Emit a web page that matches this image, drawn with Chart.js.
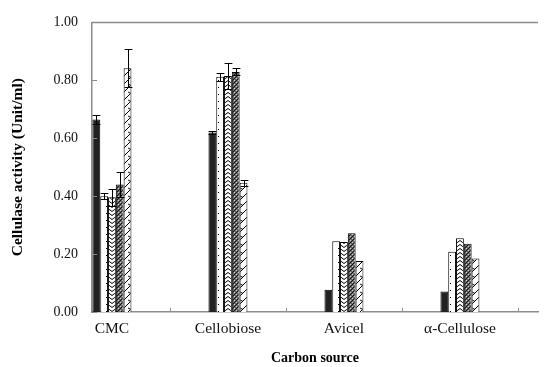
<!DOCTYPE html>
<html>
<head>
<meta charset="utf-8">
<script src="https://cdn.jsdelivr.net/npm/chart.js@4"></script>
<style>
  html, body { margin: 0; padding: 0; background: #fff; }
  #wrap { width: 548px; height: 367px; }
</style>
</head>
<body>
<div id="wrap"><canvas id="c" width="548" height="367"></canvas></div>
<script>
// Carbon sources on the x axis
const categories = ['CMC', 'Cellobiose', 'Avicel', 'α-Cellulose'];

// Cellulase activity (Unit/ml) per series, with standard deviations
const solidValues   = [0.665, 0.62, 0.077, 0.071];
const solidErrors   = [0.015, 0.004, 0, 0];
const dottedValues  = [0.40, 0.812, 0.244, 0.208];
const dottedErrors  = [0.01, 0.013, 0, 0];
const zigzagValues  = [0.396, 0.815, 0.242, 0.255];
const zigzagErrors  = [0.03, 0.045, 0, 0];
const checkValues   = [0.44, 0.829, 0.272, 0.236];
const checkErrors   = [0.042, 0.012, 0, 0];
const hatchValues   = [0.842, 0.446, 0.176, 0.185];
const hatchErrors   = [0.065, 0.011, 0, 0];

// Value-axis ticks
const yTicks = [0, 0.2, 0.4, 0.6, 0.8, 1.0];

// ---- fill patterns ----
function makePattern(w, h, draw) {
  const cv = document.createElement('canvas');
  cv.width = w; cv.height = h;
  const g = cv.getContext('2d');
  draw(g, w, h);
  return g.createPattern(cv, 'repeat');
}
const ctx = document.getElementById('c').getContext('2d');

const dottedFill = makePattern(8, 7, (g, w, h) => {
  g.fillStyle = '#fff'; g.fillRect(0, 0, w, h);
  g.fillStyle = '#000'; g.fillRect(2, 3, 1, 1);
});
const zigzagFill = makePattern(8, 4, (g, w, h) => {
  g.fillStyle = '#fff'; g.fillRect(0, 0, w, h);
  g.strokeStyle = '#000'; g.lineWidth = 1;
  g.beginPath();
  g.moveTo(0, 3.5); g.lineTo(4, 0.5); g.lineTo(8, 3.5);
  g.stroke();
});
const checkFill = makePattern(4, 4, (g, w, h) => {
  g.fillStyle = '#6a6a6a'; g.fillRect(0, 0, w, h);
  g.fillStyle = '#111';
  g.fillRect(0, 0, 1, 1); g.fillRect(2, 2, 1, 1);
  g.fillRect(1, 3, 1, 1); g.fillRect(3, 1, 1, 1);
  g.fillStyle = '#d0d0d0';
  g.fillRect(2, 0, 1, 1); g.fillRect(0, 2, 1, 1);
});
const hatchFill = makePattern(8, 8, (g, w, h) => {
  g.fillStyle = '#fff'; g.fillRect(0, 0, w, h);
  g.strokeStyle = '#000'; g.lineWidth = 1;
  g.beginPath();
  g.moveTo(0, 8); g.lineTo(8, 0);
  g.moveTo(0, 4); g.lineTo(3, 5.5);
  g.stroke();
});

const seriesList = [
  { values: solidValues,  errors: solidErrors,  fill: '#222222' },
  { values: dottedValues, errors: dottedErrors, fill: dottedFill },
  { values: zigzagValues, errors: zigzagErrors, fill: zigzagFill },
  { values: checkValues,  errors: checkErrors,  fill: checkFill },
  { values: hatchValues,  errors: hatchErrors,  fill: hatchFill }
];

// ---- error bars drawn through the scales ----
const errorBarPlugin = {
  id: 'errorBars',
  afterDatasetsDraw(chart) {
    const c = chart.ctx, ys = chart.scales.y;
    c.save();
    c.strokeStyle = '#000';
    c.lineWidth = 1;
    chart.data.datasets.forEach((ds, i) => {
      const meta = chart.getDatasetMeta(i);
      meta.data.forEach((bar, j) => {
        const e = ds.errors[j];
        if (!e) return;
        const v = ds.data[j].y;
        const top = Math.round(ys.getPixelForValue(v + e)) + 0.5;
        const bot = Math.round(ys.getPixelForValue(v - e)) + 0.5;
        const x = Math.round(bar.x) + 0.5;
        const hw = bar.width / 2;
        c.beginPath();
        c.moveTo(x, top); c.lineTo(x, bot);
        c.moveTo(x - hw, top); c.lineTo(x + hw, top);
        c.moveTo(x - hw, bot); c.lineTo(x + hw, bot);
        c.stroke();
      });
    });
    c.restore();
  }
};

// ---- inward tick marks and top frame line ----
const axisMarksPlugin = {
  id: 'axisMarks',
  afterDraw(chart) {
    const c = chart.ctx, a = chart.chartArea;
    const xs = chart.scales.x, ys = chart.scales.y;
    c.save();
    c.strokeStyle = '#8c8c8c';
    c.lineWidth = 1.5;
    c.beginPath();
    c.moveTo(a.left, a.top); c.lineTo(a.right, a.top);
    c.stroke();
    c.lineWidth = 1;
    c.beginPath();
    yTicks.forEach(t => {
      const y = Math.round(ys.getPixelForValue(t)) + 0.5;
      c.moveTo(a.left, y); c.lineTo(a.left + 5, y);
    });
    categories.forEach((_, i) => {
      const x = Math.round(xs.getPixelForValue(i + 0.5)) + 0.5;
      c.moveTo(x, a.bottom); c.lineTo(x, a.bottom - 4);
    });
    c.stroke();
    c.restore();
  }
};

new Chart(ctx, {
  type: 'bar',
  data: {
    datasets: seriesList.map(s => ({
      data: s.values.map((v, i) => ({ x: i, y: v })),
      errors: s.errors,
      backgroundColor: s.fill,
      borderColor: '#000',
      borderWidth: 1,
      categoryPercentage: 0.336,
      barPercentage: 1.0
    }))
  },
  options: {
    responsive: false,
    animation: false,
    events: [],
    layout: { padding: { top: 18, right: 10, bottom: 0, left: 0 } },
    plugins: { legend: { display: false }, tooltip: { enabled: false } },
    scales: {
      x: {
        type: 'linear',
        offset: false,
        min: -0.172,
        max: 3.673,
        afterBuildTicks(scale) { scale.ticks = categories.map((_, i) => ({ value: i })); },
        afterFit(scale) { scale.height = 55; },
        ticks: {
          autoSkip: false,
          maxRotation: 0,
          padding: 8,
          color: '#111',
          font: { family: 'Liberation Serif', size: 15.5 },
          callback: v => categories[v]
        },
        grid: { display: false, drawTicks: false, offset: false },
        border: { display: true, color: '#8c8c8c', width: 1.5 },
        title: {
          display: true,
          text: 'Carbon source',
          color: '#000',
          font: { family: 'Liberation Serif', size: 14, weight: 'bold' },
          padding: { top: 0, bottom: 0 }
        }
      },
      y: {
        min: 0,
        max: 1,
        afterBuildTicks(scale) { scale.ticks = yTicks.map(v => ({ value: v })); },
        afterFit(scale) { scale.width = 92; },
        ticks: {
          padding: 14,
          color: '#111',
          font: { family: 'Liberation Serif', size: 14 },
          callback: v => v.toFixed(2)
        },
        grid: { display: false, drawTicks: false },
        border: { display: true, color: '#8c8c8c', width: 1.5 },
        title: {
          display: true,
          text: 'Cellulase activity (Unit/ml)',
          color: '#000',
          font: { family: 'Liberation Serif', size: 15.5, weight: 'bold' },
          padding: { top: 9, bottom: 0 }
        }
      }
    }
  },
  plugins: [errorBarPlugin, axisMarksPlugin]
});
</script>
</body>
</html>
